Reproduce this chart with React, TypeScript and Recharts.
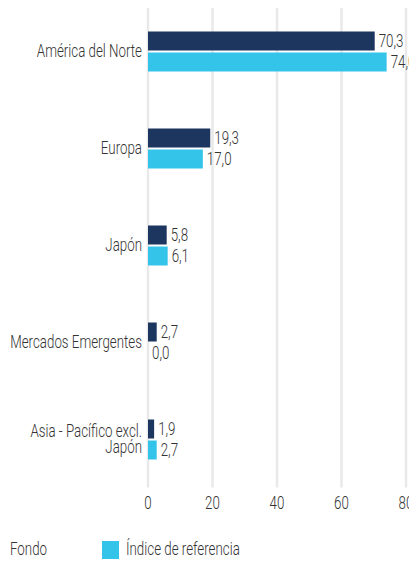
import React from "react";
import { BarChart, Bar, XAxis, YAxis, CartesianGrid, LabelList, Legend } from "recharts";

const categories = [
  "América del Norte",
  "Europa",
  "Japón",
  "Mercados Emergentes",
  "Asia - Pacífico excl. Japón",
];
const categoryLines: string[][] = [
  ["América del Norte"],
  ["Europa"],
  ["Japón"],
  ["Mercados Emergentes"],
  ["Asia - Pacífico excl.", "Japón"],
];
const fondo = [70.3, 19.3, 5.8, 2.7, 1.9];
const indice = [74.0, 17.0, 6.1, 0.0, 2.7];
const xTicks = [0, 20, 40, 60, 80];
const seriesNames = ["Fondo", "Índice de referencia"];

const DARK = "#1c365f";
const LIGHT = "#35c4e9";
const TEXT = "#333333";
const FONT = 'Roboto, "DejaVu Sans Condensed", sans-serif';
const FS = 18;
const SX = 0.74;
const FW = 300;

const data = categories.map((c, i) => ({
  name: c,
  fondo: fondo[i],
  indice: indice[i],
}));

const fmt = (v: any) => Number(v).toFixed(1).replace(".", ",");

const CText = ({ x, y, anchor = "start", children }: any) => (
  <text
    transform={`translate(${x},${y}) scale(${SX},1)`}
    x={0}
    y={0}
    textAnchor={anchor}
    fill={TEXT}
    fontFamily={FONT}
    fontWeight={FW}
    fontSize={FS}
  >
    {children}
  </text>
);

const YTick = (props: any) => {
  const { x, y, payload } = props;
  const idx = categories.indexOf(payload.value);
  const lines = idx >= 0 ? categoryLines[idx] : [payload.value];
  const lh = 15.5;
  const start = y - ((lines.length - 1) * lh) / 2 + 6;
  return (
    <g>
      {lines.map((l, i) => (
        <CText key={i} x={x} y={start + i * lh} anchor="end">
          {l}
        </CText>
      ))}
    </g>
  );
};

const XTick = (props: any) => {
  const { x, y, payload } = props;
  return (
    <CText x={x} y={y + 21.5} anchor="middle">
      {payload.value}
    </CText>
  );
};

const ValueLabel = (props: any) => {
  const { x, y, width, height, value } = props;
  if (value === undefined || value === null) return null;
  const w = Number(width || 0) < 0.5 ? 0 : Number(width);
  return (
    <CText x={Number(x) + w + 4} y={Number(y) + Number(height) / 2 + 6.4}>
      {fmt(value)}
    </CText>
  );
};

const minSize = (value: any) => (value === 0 ? 0.01 : 0);

const LegendContent = () => (
  <div style={{ position: "relative", width: 417, height: 26, fontFamily: FONT, fontWeight: FW, fontSize: FS, color: TEXT }}>
    <div style={{ position: "absolute", left: 0, top: 3.5, width: 2, height: 18, overflow: "hidden" }}>
      <div style={{ marginLeft: -14, width: 16, height: 18, background: DARK }} />
    </div>
    <div style={{ position: "absolute", left: 9.5, top: 0, lineHeight: "24px", whiteSpace: "nowrap", transform: `scaleX(${SX})`, transformOrigin: "0 0" }}>{seriesNames[0]}</div>
    <div style={{ position: "absolute", left: 102, top: 3.5, width: 17, height: 18, background: LIGHT }} />
    <div style={{ position: "absolute", left: 126, top: 0, lineHeight: "24px", whiteSpace: "nowrap", transform: `scaleX(${SX})`, transformOrigin: "0 0" }}>{seriesNames[1]}</div>
  </div>
);

export default function App() {
  return (
    <div style={{ marginLeft: -8, marginTop: -8, width: 417, height: 566, background: "#fff" }}>
      <BarChart
        width={417}
        height={566}
        data={data}
        layout="vertical"
        margin={{ top: 2.5, right: 11, left: 0, bottom: 48.5 }}
        barSize={19}
        barGap={2}
      >
        <CartesianGrid horizontal={false} vertical={true} stroke="#e9e9e9" strokeWidth={2.5} />
        <XAxis
          type="number"
          domain={[0, 80]}
          ticks={xTicks}
          axisLine={false}
          tickLine={false}
          tickSize={0}
          tickMargin={0}
          height={30}
          interval={0}
          tick={<XTick />}
        />
        <YAxis
          type="category"
          dataKey="name"
          width={148}
          axisLine={false}
          tickLine={false}
          tickSize={0}
          tickMargin={6}
          interval={0}
          tick={<YTick />}
        />
        <Legend
          layout="horizontal"
          verticalAlign="middle"
          align="center"
          wrapperStyle={{ top: 537, left: 0, width: 417, height: 26 }}
          content={<LegendContent />}
        />
        <Bar dataKey="fondo" name={seriesNames[0]} fill={DARK} minPointSize={minSize} isAnimationActive={false}>
          <LabelList dataKey="fondo" content={<ValueLabel />} />
        </Bar>
        <Bar dataKey="indice" name={seriesNames[1]} fill={LIGHT} minPointSize={minSize} isAnimationActive={false}>
          <LabelList dataKey="indice" content={<ValueLabel />} />
        </Bar>
      </BarChart>
    </div>
  );
}
